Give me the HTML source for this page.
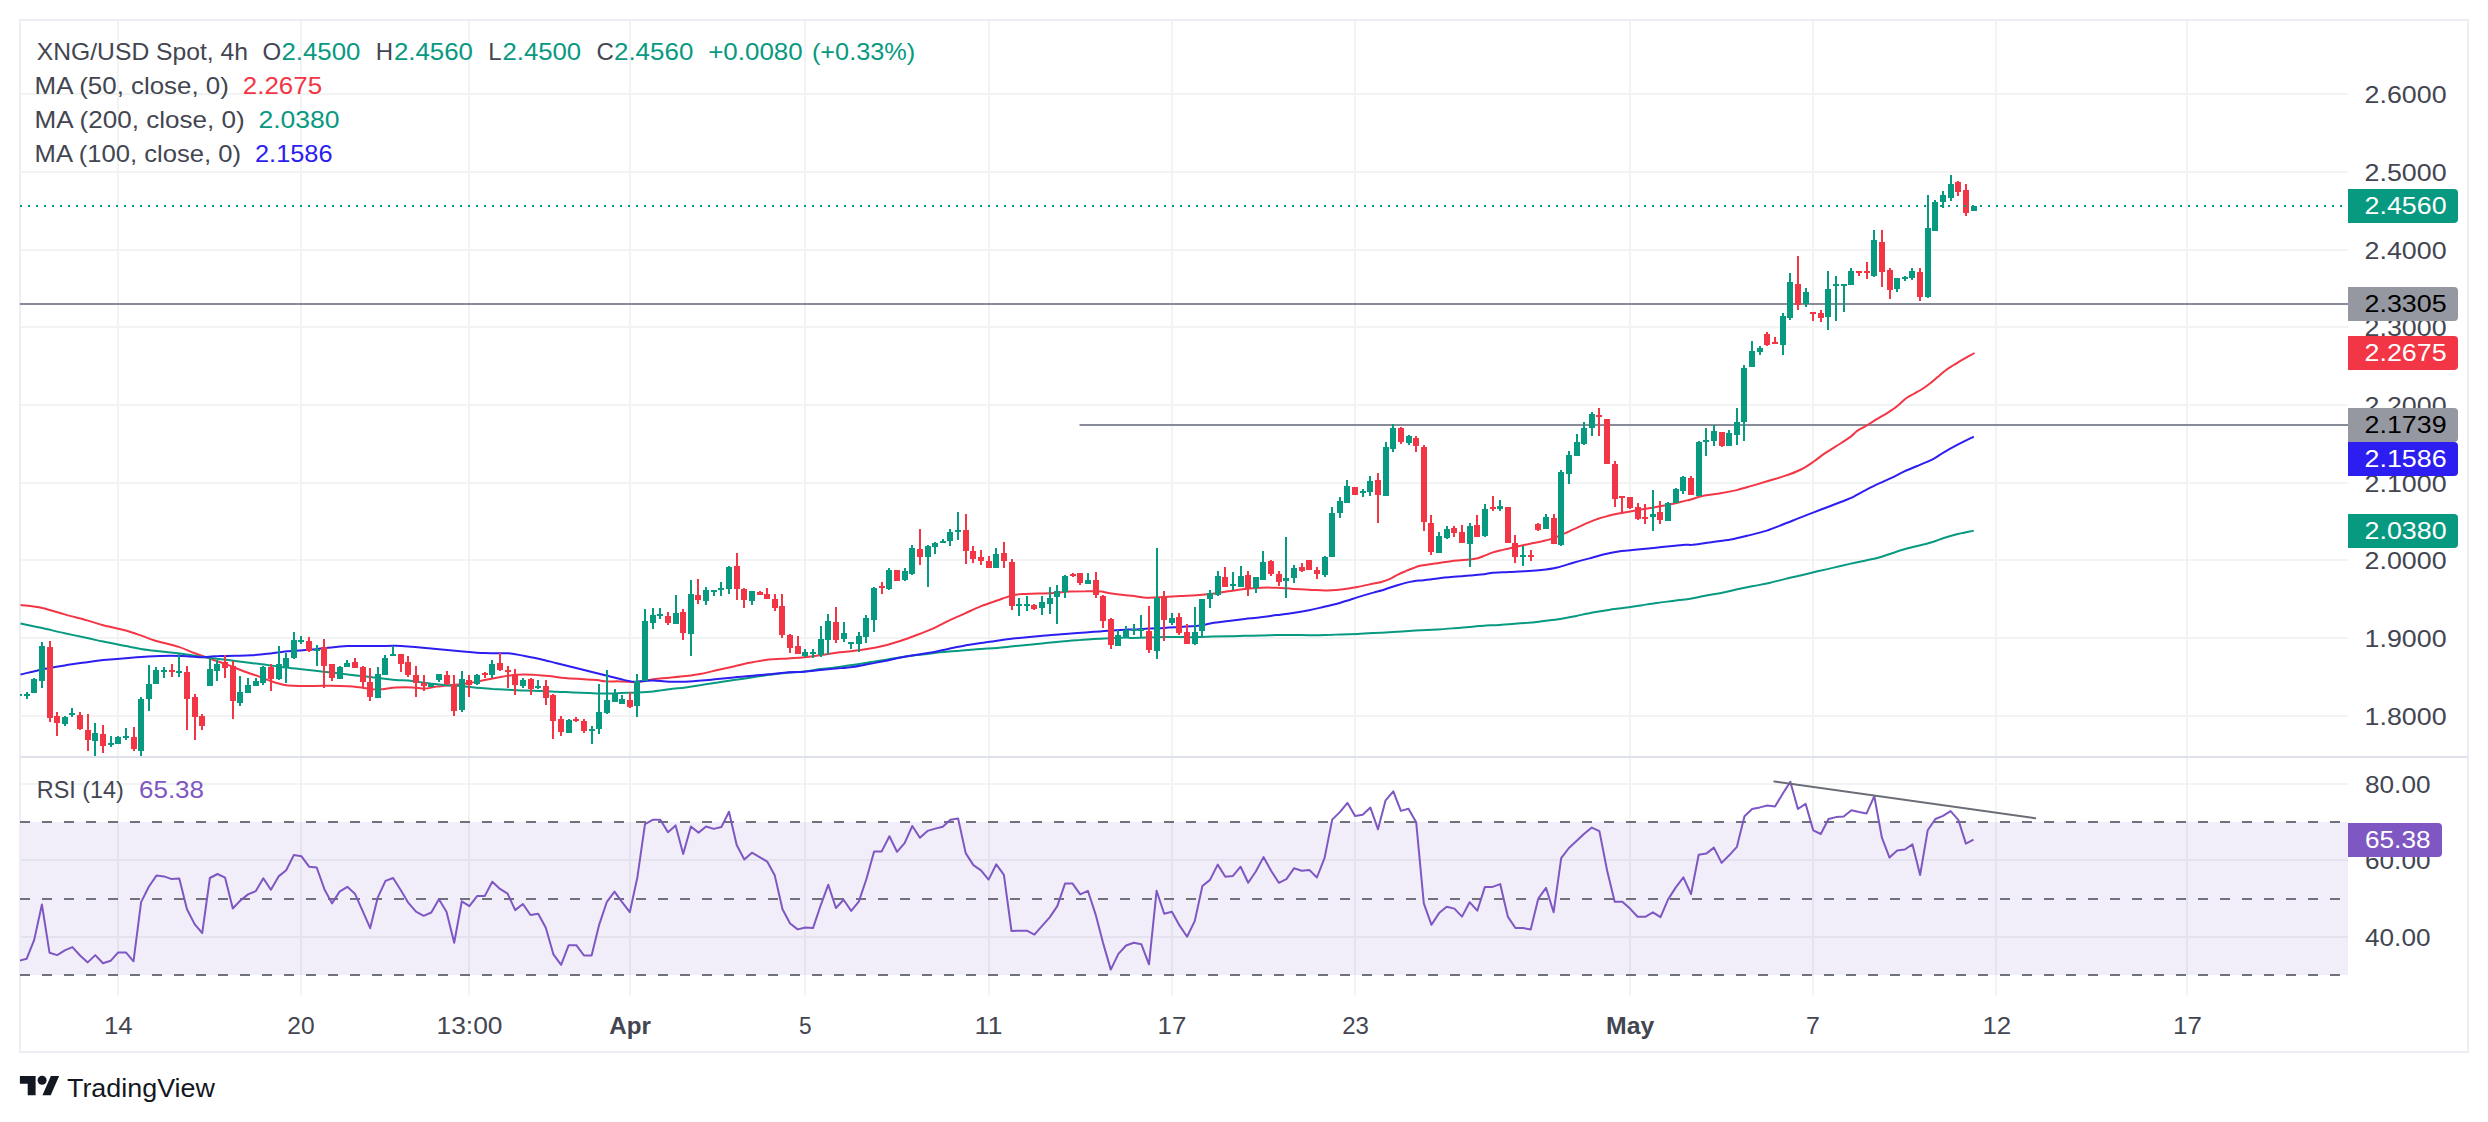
<!DOCTYPE html>
<html lang="en"><head><meta charset="utf-8"><title>XNG/USD Spot, 4h - TradingView</title>
<style>html,body{margin:0;padding:0;background:#fff}svg{display:block}</style></head>
<body>
<svg width="2488" height="1122" viewBox="0 0 2488 1122" font-family='"Liberation Sans", "DejaVu Sans", sans-serif' font-size="24">
<rect width="2488" height="1122" fill="#fff"/>
<rect x="20" y="822" width="2328" height="153" fill="#f1eef9"/>
<path d="M20 94H2348M20 172H2348M20 250H2348M20 327H2348M20 405H2348M20 483H2348M20 560H2348M20 638H2348M20 716H2348M20 784H2348M20 860H2348M20 937H2348M118 20V995.5M301 20V995.5M469 20V995.5M630 20V995.5M805 20V995.5M989 20V995.5M1172 20V995.5M1355 20V995.5M1630 20V995.5M1813 20V995.5M1996 20V995.5M2187 20V995.5" stroke="#2a2e39" stroke-opacity="0.058" stroke-width="2" fill="none"/>
<rect x="20" y="20" width="2448" height="1032" fill="none" stroke="#edeef3" stroke-width="2"/>
<path d="M20 757H2468" stroke="#dfe2ea" stroke-width="2"/>
<path d="M20 822H2348" stroke="#6f727d" stroke-width="2" stroke-dasharray="10 12"/>
<path d="M20 899H2348" stroke="#6f727d" stroke-width="2" stroke-dasharray="10 12"/>
<path d="M20 975H2348" stroke="#6f727d" stroke-width="2" stroke-dasharray="10 12"/>
<path d="M20 304H2348" stroke="#888b98" stroke-width="2"/>
<path d="M1079.5 425H2348" stroke="#888b98" stroke-width="2"/>
<clipPath id="cp"><rect x="20" y="20" width="2328" height="737"/></clipPath>
<clipPath id="cr"><rect x="20" y="757" width="2328" height="239"/></clipPath>
<g clip-path="url(#cp)">
<path d="M20.5 605.1C24.1 605.6 34.8 606.4 42.2 608.0C49.5 609.5 57.2 612.4 64.7 614.4C72.2 616.5 80.7 618.6 87.2 620.4C93.6 622.2 96.8 623.5 103.2 625.2C109.7 626.9 119.1 628.6 125.8 630.5C132.5 632.4 138.6 634.8 143.4 636.4C148.3 638.1 148.8 638.7 154.7 640.5C160.6 642.2 172.1 644.8 178.8 646.9C185.5 649.0 189.5 651.3 194.9 653.3C200.2 655.3 205.6 657.1 211.0 659.0C216.3 660.8 221.7 662.6 227.0 664.6C232.4 666.6 237.8 669.0 243.1 671.0C248.5 673.0 254.4 674.9 259.2 676.6C264.0 678.4 268.0 680.1 272.1 681.5C276.1 682.8 279.8 684.0 283.3 684.7C286.8 685.4 288.9 685.6 293.0 685.8C297.0 686.0 302.3 686.0 307.4 686.0C312.5 686.0 316.8 685.8 323.5 685.8C330.2 685.9 340.9 685.9 347.6 686.3C354.3 686.6 358.6 687.4 363.7 687.9C368.8 688.4 372.8 689.6 378.2 689.5C383.5 689.4 390.2 687.9 395.9 687.6C401.5 687.2 407.3 687.2 412.2 687.4C417.0 687.5 421.0 688.8 425.0 688.6C429.0 688.5 431.7 687.2 436.3 686.6C440.8 685.9 447.0 685.5 452.3 685.0C457.7 684.4 463.1 684.1 468.4 683.3C473.8 682.5 479.1 681.2 484.5 680.1C489.9 679.1 495.2 677.8 500.6 676.9C505.9 676.0 511.3 675.2 516.7 674.8C522.0 674.5 527.4 674.6 532.7 674.8C538.1 675.0 543.5 675.6 548.8 676.1C554.2 676.6 559.5 677.6 564.9 678.0C570.2 678.5 575.6 678.7 581.0 679.0C586.3 679.4 593.0 679.8 597.0 680.1C601.1 680.5 601.1 681.0 605.1 681.3C609.1 681.5 615.8 681.3 621.2 681.4C626.5 681.5 631.9 682.4 637.2 682.1C642.6 681.7 648.0 680.0 653.3 679.3C658.7 678.6 664.0 678.3 669.4 677.7C674.7 677.2 680.1 676.8 685.5 676.1C690.8 675.4 696.2 674.7 701.5 673.7C706.9 672.7 712.3 671.2 717.6 670.0C723.0 668.8 728.3 667.7 733.7 666.5C739.1 665.3 744.4 663.8 749.8 662.8C755.1 661.7 762.1 660.6 765.9 660.0C769.6 659.4 768.4 659.4 772.2 659.2C775.9 658.9 782.9 658.7 788.2 658.4C793.6 658.0 798.9 657.8 804.3 657.2C809.7 656.7 815.0 655.9 820.4 655.1C825.7 654.4 831.1 653.4 836.5 652.7C841.8 652.1 847.2 651.8 852.5 651.1C857.9 650.5 863.3 649.7 868.6 648.7C874.0 647.8 879.3 646.8 884.7 645.5C890.1 644.2 895.4 642.4 900.8 640.7C906.1 638.9 911.5 637.1 916.8 635.0C922.2 633.0 928.9 630.4 932.9 628.6C936.9 626.9 938.3 625.9 941.0 624.6C943.6 623.3 945.0 622.5 949.0 620.6C953.0 618.7 959.7 615.8 965.1 613.3C970.4 610.9 975.8 608.3 981.2 606.1C986.5 604.0 993.2 601.9 997.2 600.5C1001.3 599.1 1002.6 598.5 1005.3 597.6C1008.0 596.7 1010.6 595.8 1013.3 595.2C1016.0 594.6 1017.3 594.3 1021.4 594.1C1025.4 593.8 1032.1 593.8 1037.4 593.6C1042.8 593.4 1048.1 593.2 1053.5 592.9C1058.9 592.6 1064.2 591.9 1069.6 591.6C1074.9 591.3 1081.6 591.2 1085.7 591.2C1089.7 591.1 1091.0 591.1 1093.7 591.2C1096.4 591.2 1099.1 591.3 1101.7 591.6C1104.4 592.0 1105.8 592.7 1109.8 593.2C1113.8 593.8 1122.1 594.8 1125.9 595.2C1129.6 595.6 1128.4 595.4 1132.2 595.8C1135.9 596.2 1142.9 597.5 1148.2 597.7C1153.6 597.9 1158.9 597.2 1164.3 596.9C1169.7 596.6 1175.0 596.4 1180.4 596.1C1185.7 595.8 1191.1 595.7 1196.5 595.3C1201.8 594.9 1207.2 594.4 1212.5 593.7C1217.9 593.0 1223.3 592.1 1228.6 591.3C1234.0 590.5 1239.3 589.5 1244.7 588.9C1250.1 588.3 1255.4 587.9 1260.8 587.7C1266.1 587.6 1271.5 587.6 1276.8 587.7C1282.2 587.9 1287.6 588.6 1292.9 588.9C1298.3 589.2 1303.6 589.4 1309.0 589.7C1314.4 589.9 1319.7 590.5 1325.1 590.5C1330.4 590.4 1335.8 589.9 1341.2 589.4C1346.5 588.8 1351.9 587.9 1357.2 586.9C1362.6 586.0 1369.3 584.4 1373.3 583.6C1377.3 582.7 1378.7 582.7 1381.4 582.0C1384.0 581.2 1386.7 580.4 1389.4 579.2C1392.1 578.0 1394.7 576.2 1397.4 574.9C1400.1 573.5 1402.8 572.3 1405.5 571.2C1408.1 570.0 1410.8 568.9 1413.5 568.0C1416.2 567.0 1417.5 566.4 1421.5 565.6C1425.6 564.8 1432.3 564.0 1437.6 563.2C1443.0 562.3 1448.3 561.4 1453.7 560.7C1459.1 560.1 1465.8 559.9 1469.8 559.5C1473.8 559.1 1475.1 559.1 1477.8 558.3C1480.5 557.6 1483.3 556.1 1485.9 555.1C1488.4 554.1 1490.4 553.2 1492.9 552.4C1495.4 551.6 1498.3 551.0 1501.0 550.3C1503.6 549.7 1505.0 549.3 1509.0 548.4C1513.0 547.5 1519.7 545.8 1525.1 544.7C1530.4 543.5 1536.9 542.4 1541.2 541.5C1545.4 540.5 1548.1 539.9 1550.8 539.1C1553.5 538.3 1554.8 537.6 1557.2 536.7C1559.6 535.7 1562.6 534.3 1565.3 533.1C1568.0 531.9 1569.3 531.2 1573.3 529.4C1577.3 527.6 1585.4 523.9 1589.4 522.2C1593.4 520.4 1594.7 519.9 1597.4 519.0C1600.1 518.0 1602.8 517.3 1605.5 516.6C1608.1 515.8 1610.8 515.1 1613.5 514.5C1616.2 513.9 1617.5 513.7 1621.5 513.0C1625.6 512.3 1632.3 511.1 1637.6 510.1C1643.0 509.2 1648.3 508.3 1653.7 507.4C1659.1 506.5 1664.4 505.6 1669.8 504.5C1675.1 503.4 1682.5 501.4 1685.9 500.6C1689.2 499.8 1686.9 500.6 1690.0 499.7C1693.1 498.9 1699.4 496.6 1704.5 495.6C1709.6 494.5 1715.2 494.2 1720.6 493.3C1725.9 492.4 1731.3 491.4 1736.7 490.1C1742.0 488.8 1747.4 487.1 1752.7 485.6C1758.1 484.0 1763.5 482.4 1768.8 480.8C1774.2 479.2 1779.5 477.8 1784.9 475.9C1790.2 474.1 1796.1 471.9 1801.0 469.5C1805.8 467.1 1809.8 464.2 1813.8 461.5C1817.8 458.7 1820.5 456.2 1825.1 453.1C1829.6 450.0 1836.9 445.8 1841.2 443.0C1845.4 440.2 1848.1 438.6 1850.8 436.6C1853.5 434.5 1854.8 432.6 1857.2 430.9C1859.6 429.2 1862.6 428.0 1865.3 426.4C1868.0 424.8 1869.3 423.8 1873.3 421.3C1877.3 418.8 1885.4 414.2 1889.4 411.6C1893.4 409.1 1894.7 408.2 1897.4 406.0C1900.1 403.9 1902.8 400.8 1905.5 398.8C1908.1 396.8 1910.8 395.5 1913.5 394.0C1916.2 392.4 1918.9 391.1 1921.5 389.5C1924.2 387.8 1926.9 385.9 1929.6 383.8C1932.3 381.8 1934.9 379.4 1937.6 377.1C1940.3 374.8 1943.0 372.2 1945.7 370.2C1948.3 368.2 1951.0 366.7 1953.7 365.0C1956.4 363.4 1958.3 362.2 1961.7 360.2C1965.2 358.2 1972.5 354.2 1974.6 353.0" stroke="#f23645" stroke-width="2" fill="none" stroke-linejoin="round"/>
<path d="M20.5 623.6C24.1 624.3 34.8 626.5 42.2 628.1C49.5 629.7 57.2 631.6 64.7 633.2C72.2 634.9 80.7 636.7 87.2 638.1C93.6 639.4 96.8 640.3 103.2 641.6C109.7 642.9 118.3 644.7 125.8 646.1C133.3 647.5 140.8 649.0 148.3 650.1C155.8 651.2 164.3 651.8 170.8 652.5C177.2 653.2 181.5 653.7 186.8 654.5C192.2 655.2 197.6 656.1 202.9 656.9C208.3 657.6 213.6 658.3 219.0 659.0C224.4 659.6 229.7 660.2 235.1 660.9C240.4 661.6 245.8 662.3 251.2 663.0C256.5 663.6 261.9 664.2 267.2 664.9C272.6 665.6 278.0 666.6 283.3 667.3C288.7 668.0 294.0 668.4 299.4 668.9C304.7 669.5 310.1 670.1 315.5 670.7C320.8 671.3 326.2 672.0 331.5 672.6C336.9 673.3 342.3 673.9 347.6 674.5C353.0 675.2 358.3 675.7 363.7 676.3C369.1 676.9 374.4 677.7 379.8 678.2C385.1 678.8 390.5 679.4 395.9 679.9C401.2 680.3 406.8 680.4 412.2 680.9C417.6 681.5 422.9 682.7 428.2 683.3C433.6 684.0 438.9 684.5 444.3 685.0C449.7 685.4 455.0 685.6 460.4 686.1C465.7 686.6 471.1 687.4 476.5 687.8C481.8 688.3 487.2 688.6 492.5 689.0C497.9 689.3 503.3 689.5 508.6 689.8C514.0 690.0 519.3 690.4 524.7 690.6C530.1 690.8 535.4 690.9 540.8 691.1C546.1 691.2 551.5 691.5 556.8 691.7C562.2 691.9 567.6 692.3 572.9 692.5C578.3 692.7 583.6 692.8 589.0 693.0C594.4 693.2 599.7 693.5 605.1 693.5C610.4 693.5 615.8 693.2 621.2 693.0C626.5 692.8 631.9 692.8 637.2 692.5C642.6 692.2 648.0 691.9 653.3 691.4C658.7 690.8 664.0 690.0 669.4 689.3C674.7 688.6 680.1 688.1 685.5 687.4C690.8 686.6 696.2 685.8 701.5 685.0C706.9 684.1 712.3 683.3 717.6 682.5C723.0 681.7 728.3 680.9 733.7 680.1C739.1 679.3 744.4 678.5 749.8 677.7C755.1 676.9 762.1 675.9 765.9 675.3C769.6 674.8 768.4 674.8 772.2 674.4C775.9 674.0 782.9 673.3 788.2 672.8C793.6 672.3 798.9 672.2 804.3 671.5C809.7 670.9 815.0 669.9 820.4 669.1C825.7 668.4 831.1 667.9 836.5 667.2C841.8 666.5 847.2 665.9 852.5 665.1C857.9 664.3 863.3 663.2 868.6 662.4C874.0 661.5 879.3 660.8 884.7 660.0C890.1 659.1 895.4 658.0 900.8 657.2C906.1 656.4 911.5 655.8 916.8 655.1C922.2 654.5 927.6 653.8 932.9 653.2C938.3 652.6 943.6 652.1 949.0 651.6C954.4 651.1 959.7 650.8 965.1 650.3C970.4 649.9 975.8 649.4 981.2 649.0C986.5 648.6 991.9 648.4 997.2 647.9C1002.6 647.5 1008.0 646.8 1013.3 646.3C1018.7 645.8 1024.0 645.2 1029.4 644.7C1034.7 644.2 1040.1 643.6 1045.5 643.1C1050.8 642.6 1056.2 642.0 1061.5 641.5C1066.9 641.0 1072.3 640.6 1077.6 640.2C1083.0 639.8 1088.3 639.4 1093.7 639.1C1099.1 638.7 1104.4 638.5 1109.8 638.3C1115.1 638.0 1122.1 637.5 1125.9 637.5C1129.6 637.4 1128.4 637.9 1132.2 637.9C1135.9 637.9 1142.9 637.6 1148.2 637.4C1153.6 637.3 1158.9 637.2 1164.3 637.1C1169.7 637.1 1175.0 637.1 1180.4 637.1C1185.7 637.1 1191.1 637.2 1196.5 637.1C1201.8 637.0 1207.2 636.8 1212.5 636.6C1217.9 636.5 1223.3 636.4 1228.6 636.3C1234.0 636.2 1239.3 636.0 1244.7 635.8C1250.1 635.7 1255.4 635.6 1260.8 635.5C1266.1 635.4 1271.5 635.1 1276.8 635.0C1282.2 634.9 1287.6 635.0 1292.9 635.0C1298.3 635.0 1303.6 635.2 1309.0 635.2C1314.4 635.2 1319.7 635.2 1325.1 635.0C1330.4 634.9 1335.8 634.6 1341.2 634.4C1346.5 634.2 1351.9 634.1 1357.2 633.9C1362.6 633.7 1368.0 633.4 1373.3 633.1C1378.7 632.8 1384.0 632.6 1389.4 632.3C1394.7 632.0 1400.1 631.5 1405.5 631.2C1410.8 630.8 1416.2 630.5 1421.5 630.2C1426.9 629.9 1432.3 629.7 1437.6 629.4C1443.0 629.1 1448.3 628.7 1453.7 628.3C1459.1 627.9 1464.4 627.5 1469.8 627.0C1475.1 626.5 1481.5 625.7 1485.9 625.4C1490.2 625.1 1491.7 625.4 1496.1 625.2C1500.5 624.9 1506.8 624.3 1512.2 623.9C1517.5 623.5 1522.9 623.2 1528.2 622.8C1533.6 622.3 1538.9 621.6 1544.3 621.0C1549.7 620.4 1555.0 619.9 1560.4 619.1C1565.7 618.2 1571.1 616.9 1576.5 615.9C1581.8 614.8 1587.2 613.6 1592.5 612.6C1597.9 611.6 1603.3 610.7 1608.6 609.9C1614.0 609.1 1619.3 608.6 1624.7 607.8C1630.1 607.1 1635.4 606.2 1640.8 605.4C1646.1 604.6 1651.5 603.7 1656.8 603.0C1662.2 602.2 1667.6 601.6 1672.9 600.9C1678.3 600.2 1683.6 599.8 1689.0 599.0C1694.4 598.1 1699.7 596.8 1705.1 595.8C1710.4 594.7 1715.8 593.9 1721.2 592.9C1726.5 591.8 1731.9 590.5 1737.2 589.3C1742.6 588.2 1748.0 587.2 1753.3 586.1C1758.7 585.0 1764.0 584.1 1769.4 582.9C1774.7 581.7 1780.1 580.2 1785.5 578.9C1790.8 577.6 1796.2 576.4 1801.5 575.2C1806.9 573.9 1812.3 572.6 1817.6 571.3C1823.0 570.1 1828.3 568.9 1833.7 567.6C1839.1 566.4 1844.4 565.1 1849.8 563.9C1855.1 562.7 1860.8 561.5 1865.9 560.4C1870.9 559.3 1873.6 559.0 1880.0 557.2C1886.4 555.3 1896.0 551.7 1904.4 549.3C1912.7 546.9 1923.7 544.7 1930.1 542.8C1936.5 541.0 1938.7 539.7 1943.0 538.3C1947.2 536.9 1950.7 535.8 1955.8 534.5C1961.0 533.2 1970.8 531.3 1973.8 530.6" stroke="#089981" stroke-width="2" fill="none" stroke-linejoin="round"/>
<path d="M20.5 674.5C24.1 673.7 34.8 670.9 42.2 669.4C49.5 667.9 57.2 666.6 64.7 665.4C72.2 664.2 80.7 663.1 87.2 662.2C93.6 661.3 96.8 660.8 103.2 660.1C109.7 659.4 118.3 658.7 125.8 658.2C133.3 657.6 140.8 656.9 148.3 656.5C155.8 656.1 164.3 655.8 170.8 655.7C177.2 655.7 181.5 656.0 186.8 656.2C192.2 656.5 198.9 657.3 202.9 657.3C206.9 657.4 208.3 656.8 211.0 656.5C213.6 656.3 215.0 656.2 219.0 656.1C223.0 655.9 229.7 655.9 235.1 655.7C240.4 655.6 245.8 655.6 251.2 655.3C256.5 654.9 261.9 654.4 267.2 653.8C272.6 653.2 278.0 652.3 283.3 651.7C288.7 651.2 294.0 651.0 299.4 650.6C304.7 650.2 310.1 649.8 315.5 649.3C320.8 648.8 326.2 647.9 331.5 647.4C336.9 646.8 342.3 646.3 347.6 646.1C353.0 645.9 358.3 646.1 363.7 646.1C369.1 646.1 374.4 646.1 379.8 646.1C385.1 646.0 390.5 645.6 395.9 645.8C401.2 645.9 405.4 646.3 412.2 646.8C418.9 647.4 428.2 648.4 436.3 649.1C444.3 649.8 452.3 650.5 460.4 651.2C468.4 651.9 476.5 652.8 484.5 653.1C492.5 653.5 501.9 652.8 508.6 653.3C515.3 653.8 519.3 655.0 524.7 656.0C530.1 657.0 535.4 658.0 540.8 659.2C546.1 660.4 551.5 661.9 556.8 663.2C562.2 664.6 567.6 665.9 572.9 667.3C578.3 668.6 583.6 669.9 589.0 671.3C594.4 672.6 599.7 674.0 605.1 675.3C610.4 676.6 616.3 678.3 621.2 679.3C626.0 680.4 630.0 681.5 634.0 681.7C638.0 682.0 642.1 681.1 645.3 680.9C648.5 680.7 649.3 680.5 653.3 680.6C657.3 680.7 664.0 681.5 669.4 681.7C674.7 681.9 680.1 681.9 685.5 681.7C690.8 681.5 696.2 681.1 701.5 680.6C706.9 680.2 712.3 679.5 717.6 679.0C723.0 678.5 728.3 677.9 733.7 677.4C739.1 676.9 744.4 676.6 749.8 676.1C755.1 675.6 762.1 674.8 765.9 674.5C769.6 674.2 768.4 674.5 772.2 674.1C775.9 673.8 782.9 672.7 788.2 672.3C793.6 671.9 798.9 672.1 804.3 671.7C809.7 671.3 815.0 670.6 820.4 670.1C825.7 669.6 831.1 669.0 836.5 668.5C841.8 668.0 847.2 667.6 852.5 666.9C857.9 666.1 863.3 665.0 868.6 664.0C874.0 663.0 879.3 662.2 884.7 661.1C890.1 660.0 895.4 658.6 900.8 657.6C906.1 656.5 911.5 655.5 916.8 654.7C922.2 653.8 927.6 653.2 932.9 652.3C938.3 651.3 943.6 649.8 949.0 648.7C954.4 647.6 959.7 646.4 965.1 645.5C970.4 644.6 975.8 643.9 981.2 643.1C986.5 642.3 991.9 641.4 997.2 640.7C1002.6 639.9 1008.0 639.2 1013.3 638.6C1018.7 638.0 1024.0 637.5 1029.4 637.0C1034.7 636.5 1040.1 636.0 1045.5 635.5C1050.8 635.1 1056.2 634.7 1061.5 634.2C1066.9 633.8 1072.3 633.4 1077.6 633.0C1083.0 632.6 1088.3 632.2 1093.7 631.8C1099.1 631.5 1104.4 631.1 1109.8 630.7C1115.1 630.4 1122.1 629.9 1125.9 629.7C1129.6 629.5 1128.4 629.7 1132.2 629.5C1135.9 629.4 1142.9 628.9 1148.2 628.6C1153.6 628.3 1158.9 628.2 1164.3 627.9C1169.7 627.7 1175.0 627.3 1180.4 627.0C1185.7 626.6 1192.4 626.2 1196.5 625.9C1200.5 625.5 1201.8 625.2 1204.5 624.7C1207.2 624.3 1208.5 623.7 1212.5 623.1C1216.6 622.5 1223.3 621.7 1228.6 621.0C1234.0 620.3 1239.3 619.6 1244.7 618.9C1250.1 618.3 1255.4 618.0 1260.8 617.3C1266.1 616.7 1271.5 615.8 1276.8 615.1C1282.2 614.4 1287.6 613.8 1292.9 613.0C1298.3 612.2 1303.6 611.3 1309.0 610.3C1314.4 609.2 1319.7 607.8 1325.1 606.6C1330.4 605.3 1335.8 604.1 1341.2 602.5C1346.5 601.0 1351.9 599.1 1357.2 597.4C1362.6 595.7 1369.3 593.7 1373.3 592.6C1377.3 591.4 1378.7 591.3 1381.4 590.5C1384.0 589.7 1386.7 588.6 1389.4 587.7C1392.1 586.9 1394.7 586.0 1397.4 585.2C1400.1 584.4 1402.8 583.6 1405.5 582.9C1408.1 582.3 1410.8 581.7 1413.5 581.3C1416.2 580.9 1417.5 580.8 1421.5 580.4C1425.6 579.9 1432.3 579.0 1437.6 578.4C1443.0 577.8 1448.3 577.3 1453.7 576.8C1459.1 576.3 1464.4 576.0 1469.8 575.5C1475.1 575.0 1482.0 574.4 1485.9 573.9C1489.7 573.5 1489.1 573.1 1492.9 572.8C1496.8 572.5 1503.6 572.3 1509.0 572.0C1514.4 571.8 1519.7 571.5 1525.1 571.2C1530.4 570.9 1535.8 570.7 1541.2 570.1C1546.5 569.5 1551.9 568.8 1557.2 567.5C1562.6 566.3 1568.0 564.2 1573.3 562.7C1578.7 561.2 1584.0 559.8 1589.4 558.4C1594.7 556.9 1600.1 555.2 1605.5 554.0C1610.8 552.8 1616.2 551.9 1621.5 551.1C1626.9 550.4 1632.3 550.1 1637.6 549.5C1643.0 549.0 1648.3 548.4 1653.7 547.9C1659.1 547.4 1664.4 546.8 1669.8 546.3C1675.1 545.8 1682.1 545.0 1685.9 544.7C1689.6 544.4 1687.9 545.2 1692.2 544.8C1696.4 544.3 1705.0 543.0 1711.4 542.2C1717.9 541.3 1724.3 540.8 1730.7 539.6C1737.2 538.4 1744.0 536.6 1750.0 535.1C1756.0 533.6 1761.4 532.3 1766.8 530.6C1772.1 528.9 1776.4 527.1 1782.2 524.8C1788.0 522.6 1796.3 519.1 1801.5 517.1C1806.6 515.1 1808.8 514.3 1813.1 512.6C1817.3 511.0 1822.7 508.9 1827.2 507.2C1831.7 505.5 1836.2 503.8 1840.1 502.3C1843.9 500.8 1846.1 500.2 1850.4 498.2C1854.6 496.2 1861.1 492.5 1865.8 490.1C1870.5 487.7 1874.4 485.7 1878.6 483.7C1882.9 481.6 1887.2 479.9 1891.5 477.9C1895.8 475.8 1900.1 473.4 1904.4 471.4C1908.7 469.5 1912.3 468.2 1917.2 466.0C1922.2 463.9 1929.7 460.8 1934.0 458.6C1938.2 456.4 1939.3 454.9 1943.0 452.8C1946.6 450.7 1950.7 448.4 1955.8 445.7C1961.0 443.0 1970.8 438.2 1973.8 436.7" stroke="#2c1ef0" stroke-width="2" fill="none" stroke-linejoin="round"/>
<path d="M18 694h2V696h-2zM26 692h2V699h-2zM33 678h2V693h-2zM41 642h2V688h-2zM64 716h2V726h-2zM71 708h2V717h-2zM94 723h2V756h-2zM110 736h2V747h-2zM117 736h2V744h-2zM125 728h2V740h-2zM140 697h2V756h-2zM148 665h2V711h-2zM155 667h2V684h-2zM163 667h2V678h-2zM178 654h2V677h-2zM209 658h2V686h-2zM216 660h2V681h-2zM239 676h2V706h-2zM247 678h2V693h-2zM255 678h2V686h-2zM262 666h2V685h-2zM278 646h2V680h-2zM285 653h2V683h-2zM293 632h2V659h-2zM300 636h2V644h-2zM316 645h2V666h-2zM339 666h2V679h-2zM346 660h2V667h-2zM377 667h2V698h-2zM384 655h2V675h-2zM392 646h2V656h-2zM430 683h2V687h-2zM438 674h2V682h-2zM461 671h2V712h-2zM476 674h2V685h-2zM491 660h2V678h-2zM522 678h2V688h-2zM537 680h2V689h-2zM568 719h2V733h-2zM591 726h2V744h-2zM598 684h2V734h-2zM606 670h2V714h-2zM614 689h2V702h-2zM621 695h2V704h-2zM636 674h2V717h-2zM644 609h2V681h-2zM652 608h2V629h-2zM659 608h2V619h-2zM675 595h2V624h-2zM690 580h2V656h-2zM705 587h2V605h-2zM713 590h2V596h-2zM720 582h2V596h-2zM728 566h2V594h-2zM751 591h2V605h-2zM804 649h2V657h-2zM812 649h2V658h-2zM820 626h2V657h-2zM827 614h2V655h-2zM843 622h2V642h-2zM850 642h2V649h-2zM858 632h2V652h-2zM865 615h2V643h-2zM873 587h2V632h-2zM888 568h2V590h-2zM904 568h2V581h-2zM911 545h2V575h-2zM927 545h2V587h-2zM934 542h2V554h-2zM942 539h2V543h-2zM949 529h2V546h-2zM957 512h2V540h-2zM995 548h2V568h-2zM1018 598h2V616h-2zM1026 596h2V611h-2zM1041 596h2V615h-2zM1049 587h2V614h-2zM1056 585h2V624h-2zM1064 575h2V598h-2zM1087 573h2V584h-2zM1117 630h2V646h-2zM1125 626h2V638h-2zM1133 624h2V635h-2zM1140 615h2V637h-2zM1156 548h2V659h-2zM1171 613h2V625h-2zM1194 607h2V645h-2zM1201 599h2V636h-2zM1209 590h2V608h-2zM1217 571h2V596h-2zM1232 572h2V590h-2zM1240 566h2V587h-2zM1255 577h2V593h-2zM1262 551h2V580h-2zM1285 537h2V598h-2zM1293 565h2V583h-2zM1324 556h2V577h-2zM1331 507h2V557h-2zM1339 497h2V518h-2zM1346 480h2V503h-2zM1362 489h2V497h-2zM1369 476h2V496h-2zM1385 442h2V496h-2zM1392 424h2V452h-2zM1408 435h2V445h-2zM1438 532h2V553h-2zM1446 526h2V539h-2zM1469 523h2V567h-2zM1484 504h2V537h-2zM1499 500h2V511h-2zM1522 546h2V566h-2zM1545 514h2V529h-2zM1560 470h2V546h-2zM1568 451h2V484h-2zM1576 434h2V456h-2zM1583 422h2V445h-2zM1591 412h2V436h-2zM1652 490h2V531h-2zM1667 502h2V521h-2zM1675 488h2V503h-2zM1682 476h2V494h-2zM1698 441h2V496h-2zM1705 428h2V456h-2zM1713 425h2V446h-2zM1728 430h2V446h-2zM1736 408h2V445h-2zM1743 365h2V441h-2zM1751 341h2V367h-2zM1759 346h2V355h-2zM1782 313h2V355h-2zM1789 273h2V320h-2zM1805 288h2V307h-2zM1827 271h2V330h-2zM1835 276h2V321h-2zM1843 284h2V312h-2zM1850 268h2V285h-2zM1873 230h2V277h-2zM1896 278h2V292h-2zM1904 276h2V281h-2zM1911 268h2V280h-2zM1927 195h2V298h-2zM1934 200h2V231h-2zM1942 191h2V208h-2zM1950 175h2V201h-2zM1973 206h2V211h-2zM16 694h6V696h-6zM24 694h6V696h-6zM31 679h6V693h-6zM39 646h6V681h-6zM62 717h6V724h-6zM69 713h6V715h-6zM92 733h6V741h-6zM108 743h6V745h-6zM115 737h6V744h-6zM123 736h6V738h-6zM138 699h6V751h-6zM146 684h6V699h-6zM153 670h6V684h-6zM161 670h6V672h-6zM176 671h6V673h-6zM207 669h6V686h-6zM214 664h6V671h-6zM237 692h6V703h-6zM245 685h6V693h-6zM253 681h6V686h-6zM260 667h6V683h-6zM276 664h6V679h-6zM283 658h6V668h-6zM291 640h6V658h-6zM298 640h6V642h-6zM314 649h6V651h-6zM337 667h6V679h-6zM344 663h6V667h-6zM375 674h6V698h-6zM382 658h6V675h-6zM390 654h6V656h-6zM428 683h6V687h-6zM436 674h6V680h-6zM459 679h6V710h-6zM474 675h6V684h-6zM489 664h6V675h-6zM520 680h6V686h-6zM535 686h6V688h-6zM566 720h6V733h-6zM589 729h6V731h-6zM596 712h6V729h-6zM604 700h6V713h-6zM612 693h6V702h-6zM619 699h6V704h-6zM634 681h6V706h-6zM642 621h6V681h-6zM650 615h6V623h-6zM657 614h6V616h-6zM673 613h6V624h-6zM688 594h6V634h-6zM703 590h6V601h-6zM711 590h6V592h-6zM718 588h6V590h-6zM726 567h6V589h-6zM749 591h6V601h-6zM802 652h6V656h-6zM810 652h6V654h-6zM818 639h6V655h-6zM825 621h6V640h-6zM841 633h6V639h-6zM848 642h6V644h-6zM856 636h6V644h-6zM863 618h6V637h-6zM871 588h6V620h-6zM886 570h6V589h-6zM902 571h6V580h-6zM909 548h6V574h-6zM925 546h6V557h-6zM932 543h6V547h-6zM940 541h6V543h-6zM947 532h6V541h-6zM955 530h6V532h-6zM993 554h6V568h-6zM1016 604h6V606h-6zM1024 604h6V606h-6zM1039 602h6V608h-6zM1047 598h6V604h-6zM1054 591h6V597h-6zM1062 576h6V592h-6zM1085 580h6V584h-6zM1115 635h6V646h-6zM1123 630h6V638h-6zM1131 629h6V631h-6zM1138 629h6V631h-6zM1154 598h6V651h-6zM1169 618h6V623h-6zM1192 632h6V644h-6zM1199 599h6V631h-6zM1207 593h6V599h-6zM1215 576h6V595h-6zM1230 584h6V586h-6zM1238 576h6V587h-6zM1253 577h6V588h-6zM1260 562h6V580h-6zM1283 578h6V581h-6zM1291 568h6V578h-6zM1322 557h6V575h-6zM1329 513h6V557h-6zM1337 501h6V513h-6zM1344 486h6V503h-6zM1360 491h6V493h-6zM1367 481h6V492h-6zM1383 447h6V496h-6zM1390 428h6V449h-6zM1406 436h6V443h-6zM1436 536h6V553h-6zM1444 529h6V538h-6zM1467 526h6V544h-6zM1482 509h6V536h-6zM1497 506h6V509h-6zM1520 555h6V557h-6zM1543 517h6V529h-6zM1558 472h6V545h-6zM1566 455h6V474h-6zM1574 442h6V456h-6zM1581 428h6V444h-6zM1589 414h6V428h-6zM1650 514h6V517h-6zM1665 503h6V521h-6zM1673 489h6V503h-6zM1680 477h6V491h-6zM1696 442h6V496h-6zM1703 440h6V442h-6zM1711 431h6V441h-6zM1726 433h6V446h-6zM1734 422h6V435h-6zM1741 368h6V422h-6zM1749 351h6V367h-6zM1757 348h6V352h-6zM1780 316h6V345h-6zM1787 282h6V318h-6zM1803 292h6V304h-6zM1825 289h6V317h-6zM1833 284h6V286h-6zM1841 284h6V286h-6zM1848 271h6V285h-6zM1871 240h6V276h-6zM1894 278h6V289h-6zM1902 277h6V279h-6zM1909 271h6V278h-6zM1925 228h6V297h-6zM1932 202h6V231h-6zM1940 195h6V202h-6zM1948 184h6V198h-6zM1971 206h6V211h-6z" fill="#089981"/>
<path d="M49 641h2V722h-2zM56 712h2V736h-2zM79 712h2V730h-2zM87 714h2V751h-2zM102 725h2V753h-2zM133 727h2V751h-2zM171 664h2V677h-2zM186 666h2V730h-2zM194 694h2V740h-2zM201 714h2V730h-2zM224 655h2V678h-2zM232 661h2V719h-2zM270 664h2V691h-2zM308 637h2V652h-2zM323 639h2V688h-2zM331 664h2V681h-2zM354 658h2V668h-2zM362 666h2V688h-2zM369 668h2V701h-2zM400 654h2V672h-2zM407 656h2V677h-2zM415 666h2V697h-2zM423 675h2V691h-2zM446 671h2V685h-2zM453 675h2V716h-2zM468 675h2V697h-2zM484 672h2V678h-2zM499 653h2V671h-2zM507 666h2V688h-2zM514 669h2V695h-2zM530 678h2V695h-2zM545 680h2V705h-2zM552 694h2V739h-2zM560 716h2V736h-2zM575 717h2V722h-2zM583 719h2V733h-2zM629 692h2V708h-2zM667 612h2V625h-2zM682 609h2V640h-2zM697 579h2V604h-2zM736 553h2V600h-2zM743 588h2V608h-2zM759 591h2V595h-2zM766 588h2V599h-2zM774 594h2V611h-2zM781 594h2V638h-2zM789 634h2V653h-2zM797 636h2V654h-2zM835 607h2V643h-2zM881 582h2V594h-2zM896 570h2V581h-2zM919 529h2V565h-2zM965 514h2V564h-2zM972 546h2V563h-2zM980 550h2V565h-2zM988 556h2V568h-2zM1003 542h2V568h-2zM1011 559h2V610h-2zM1033 604h2V610h-2zM1072 573h2V577h-2zM1079 573h2V585h-2zM1095 572h2V598h-2zM1102 595h2V628h-2zM1110 618h2V649h-2zM1148 606h2V653h-2zM1163 591h2V641h-2zM1178 613h2V635h-2zM1186 624h2V644h-2zM1224 567h2V587h-2zM1247 571h2V596h-2zM1270 560h2V576h-2zM1278 571h2V586h-2zM1301 563h2V572h-2zM1308 560h2V570h-2zM1316 567h2V579h-2zM1354 487h2V495h-2zM1377 473h2V523h-2zM1400 427h2V444h-2zM1415 436h2V452h-2zM1423 445h2V531h-2zM1430 515h2V555h-2zM1453 526h2V537h-2zM1461 525h2V543h-2zM1476 515h2V537h-2zM1492 496h2V511h-2zM1507 507h2V543h-2zM1514 535h2V563h-2zM1530 550h2V561h-2zM1537 523h2V531h-2zM1553 514h2V544h-2zM1598 408h2V436h-2zM1606 419h2V464h-2zM1614 461h2V507h-2zM1621 496h2V512h-2zM1629 497h2V509h-2zM1637 503h2V520h-2zM1644 504h2V524h-2zM1659 501h2V524h-2zM1690 476h2V495h-2zM1721 432h2V447h-2zM1766 332h2V346h-2zM1774 337h2V344h-2zM1797 256h2V310h-2zM1812 312h2V321h-2zM1820 310h2V322h-2zM1858 271h2V276h-2zM1866 262h2V279h-2zM1881 230h2V287h-2zM1889 268h2V299h-2zM1919 268h2V301h-2zM1957 181h2V196h-2zM1965 184h2V216h-2zM47 647h6V718h-6zM54 716h6V723h-6zM77 715h6V729h-6zM85 730h6V740h-6zM100 734h6V746h-6zM131 737h6V749h-6zM169 670h6V672h-6zM184 672h6V699h-6zM192 697h6V717h-6zM199 716h6V726h-6zM222 662h6V668h-6zM230 666h6V701h-6zM268 667h6V679h-6zM306 641h6V651h-6zM321 647h6V666h-6zM329 664h6V678h-6zM352 662h6V668h-6zM360 667h6V682h-6zM367 682h6V697h-6zM398 654h6V664h-6zM405 662h6V675h-6zM413 675h6V683h-6zM421 683h6V686h-6zM444 675h6V684h-6zM451 684h6V711h-6zM466 680h6V685h-6zM482 673h6V675h-6zM497 663h6V670h-6zM505 670h6V672h-6zM512 674h6V685h-6zM528 679h6V689h-6zM543 686h6V698h-6zM550 695h6V721h-6zM558 719h6V732h-6zM573 719h6V721h-6zM581 721h6V731h-6zM627 700h6V707h-6zM665 616h6V623h-6zM680 612h6V633h-6zM695 595h6V600h-6zM734 566h6V589h-6zM741 589h6V600h-6zM757 592h6V595h-6zM764 594h6V599h-6zM772 599h6V608h-6zM779 606h6V635h-6zM787 635h6V648h-6zM795 646h6V654h-6zM833 622h6V640h-6zM879 586h6V588h-6zM894 570h6V581h-6zM917 549h6V557h-6zM963 530h6V551h-6zM970 551h6V559h-6zM978 557h6V561h-6zM986 561h6V568h-6zM1001 553h6V561h-6zM1009 562h6V606h-6zM1031 605h6V609h-6zM1070 574h6V576h-6zM1077 573h6V583h-6zM1093 580h6V595h-6zM1100 596h6V621h-6zM1108 619h6V645h-6zM1146 631h6V650h-6zM1161 596h6V620h-6zM1176 617h6V633h-6zM1184 632h6V644h-6zM1222 577h6V587h-6zM1245 575h6V588h-6zM1268 561h6V574h-6zM1276 574h6V582h-6zM1299 567h6V571h-6zM1306 560h6V570h-6zM1314 570h6V574h-6zM1352 487h6V495h-6zM1375 480h6V495h-6zM1398 428h6V442h-6zM1413 438h6V446h-6zM1421 447h6V522h-6zM1428 523h6V552h-6zM1451 528h6V533h-6zM1459 532h6V543h-6zM1474 525h6V537h-6zM1490 507h6V509h-6zM1505 507h6V543h-6zM1512 543h6V557h-6zM1528 555h6V557h-6zM1535 524h6V530h-6zM1551 518h6V544h-6zM1596 415h6V417h-6zM1604 419h6V464h-6zM1612 464h6V499h-6zM1619 496h6V498h-6zM1627 497h6V508h-6zM1635 507h6V519h-6zM1642 517h6V519h-6zM1657 512h6V520h-6zM1688 478h6V495h-6zM1719 432h6V446h-6zM1764 334h6V345h-6zM1772 342h6V344h-6zM1795 284h6V305h-6zM1810 312h6V314h-6zM1818 313h6V318h-6zM1856 271h6V273h-6zM1864 271h6V273h-6zM1879 242h6V272h-6zM1887 270h6V290h-6zM1917 272h6V297h-6zM1955 182h6V192h-6zM1963 190h6V213h-6z" fill="#f23645"/>
</g>
<path d="M20 206H2348" stroke="#089981" stroke-width="2" stroke-dasharray="2 6"/>
<g clip-path="url(#cr)">
<path d="M19.0 960.8L26.6 958.8L34.2 939.9L41.9 904.5L49.5 952.7L57.2 955.1L64.8 950.3L72.4 947.1L80.1 955.5L87.7 962.4L95.3 955.1L103.0 963.2L110.6 960.8L118.2 952.4L125.9 952.4L133.5 961.3L141.1 902.1L148.8 886.8L156.4 875.6L164.0 876.4L171.7 879.1L179.3 878.5L186.9 909.0L194.6 924.1L202.2 933.1L209.9 878.0L217.5 874.0L225.1 877.7L232.8 908.5L240.4 900.5L248.0 894.4L255.7 891.2L263.3 878.3L270.9 889.7L278.6 876.4L286.2 870.3L293.8 855.1L301.5 856.3L309.1 866.7L316.7 867.5L324.4 889.2L332.0 903.4L339.6 891.6L347.3 886.8L354.9 893.7L362.6 910.9L370.2 928.1L377.8 897.3L385.5 880.9L393.1 878.0L400.7 890.0L408.4 902.9L416.0 911.7L423.6 915.8L431.3 912.5L438.9 899.2L446.5 911.7L454.2 942.8L461.8 901.3L469.4 906.1L477.1 896.1L484.7 896.1L492.3 881.7L500.0 888.9L507.6 893.7L515.2 910.1L522.9 904.0L530.5 915.0L538.2 913.8L545.8 927.8L553.4 954.3L561.1 964.8L568.7 945.2L576.3 945.2L584.0 955.5L591.6 955.5L599.2 924.6L606.9 901.8L614.5 891.6L622.1 902.1L629.8 912.2L637.4 877.2L645.0 824.1L652.7 819.8L660.3 819.8L668.0 832.2L675.6 825.4L683.2 853.9L690.9 826.5L698.5 832.6L706.1 826.5L713.8 828.9L721.4 827.0L729.0 811.7L736.7 845.0L744.3 859.5L751.9 852.7L759.6 857.1L767.2 861.6L774.8 875.6L782.5 909.3L790.1 923.5L797.7 929.4L805.4 927.5L813.0 928.1L820.7 905.3L828.3 884.7L835.9 908.0L843.6 899.7L851.2 910.9L858.8 901.6L866.5 878.8L874.1 851.4L881.7 851.4L889.4 836.2L897.0 851.8L904.6 843.1L912.3 826.0L919.9 837.8L927.5 830.9L935.2 828.6L942.8 826.8L950.4 819.8L958.1 818.5L965.7 853.1L973.4 865.1L981.0 870.3L988.6 879.6L996.3 864.3L1003.9 874.8L1011.5 931.0L1019.2 930.7L1026.8 930.7L1034.4 934.6L1042.1 925.9L1049.7 917.4L1057.3 906.1L1065.0 883.6L1072.6 883.6L1080.2 894.4L1087.9 890.8L1095.5 914.1L1103.1 943.1L1110.8 969.6L1118.4 953.9L1126.1 945.5L1133.7 942.8L1141.3 944.2L1149.0 964.3L1156.6 890.8L1164.2 913.8L1171.9 911.7L1179.5 925.4L1187.1 936.7L1194.8 920.9L1202.4 886.0L1210.0 879.9L1217.7 864.6L1225.3 876.8L1232.9 875.9L1240.6 866.7L1248.2 882.8L1255.8 871.5L1263.5 857.1L1271.1 870.7L1278.8 882.8L1286.4 879.1L1294.0 868.3L1301.7 870.7L1309.3 869.9L1316.9 877.5L1324.6 857.9L1332.2 819.6L1339.8 812.1L1347.5 802.9L1355.1 816.1L1362.7 814.8L1370.4 807.6L1378.0 829.3L1385.6 800.3L1393.3 791.3L1400.9 810.9L1408.5 808.8L1416.2 822.3L1423.8 903.4L1431.5 924.8L1439.1 913.1L1446.7 906.7L1454.4 908.6L1462.0 916.6L1469.6 902.2L1477.3 910.7L1484.9 886.9L1492.5 886.9L1500.2 884.1L1507.8 916.6L1515.4 928.0L1523.1 928.0L1530.7 929.5L1538.3 898.6L1546.0 887.8L1553.6 912.3L1561.2 858.1L1568.9 848.0L1576.5 841.1L1584.2 833.8L1591.8 827.6L1599.4 831.1L1607.1 870.5L1614.7 901.8L1622.3 901.8L1630.0 908.6L1637.6 916.8L1645.2 916.8L1652.9 912.3L1660.5 917.1L1668.1 899.4L1675.8 887.4L1683.4 877.4L1691.0 894.1L1698.7 854.7L1706.3 853.6L1713.9 847.6L1721.6 862.9L1729.2 855.3L1736.9 846.8L1744.5 816.3L1752.1 809.0L1759.8 807.4L1767.4 805.5L1775.0 806.6L1782.7 793.8L1790.3 781.7L1797.9 809.0L1805.6 803.9L1813.2 830.3L1820.8 834.0L1828.5 819.0L1836.1 817.1L1843.7 816.6L1851.4 810.2L1859.0 811.9L1866.6 813.4L1874.3 796.2L1881.9 837.7L1889.5 857.6L1897.2 850.4L1904.8 849.5L1912.5 844.4L1920.1 875.0L1927.7 830.3L1935.4 819.0L1943.0 815.9L1950.6 811.1L1958.3 819.8L1965.9 843.6L1973.5 839.6" stroke="#7e57c2" stroke-width="2" fill="none" stroke-linejoin="round"/>
<path d="M1774.3 781.4L2035.2 818.2" stroke="#6a6d78" stroke-width="2" stroke-linecap="round"/>
</g>
<text x="2364.6" y="103" fill="#434651" textLength="82" lengthAdjust="spacingAndGlyphs">2.6000</text>
<text x="2364.6" y="181" fill="#434651" textLength="82" lengthAdjust="spacingAndGlyphs">2.5000</text>
<text x="2364.6" y="259" fill="#434651" textLength="82" lengthAdjust="spacingAndGlyphs">2.4000</text>
<text x="2364.6" y="336" fill="#434651" textLength="82" lengthAdjust="spacingAndGlyphs">2.3000</text>
<text x="2364.6" y="414" fill="#434651" textLength="82" lengthAdjust="spacingAndGlyphs">2.2000</text>
<text x="2364.6" y="492" fill="#434651" textLength="82" lengthAdjust="spacingAndGlyphs">2.1000</text>
<text x="2364.6" y="569" fill="#434651" textLength="82" lengthAdjust="spacingAndGlyphs">2.0000</text>
<text x="2364.6" y="647" fill="#434651" textLength="82" lengthAdjust="spacingAndGlyphs">1.9000</text>
<text x="2364.6" y="725" fill="#434651" textLength="82" lengthAdjust="spacingAndGlyphs">1.8000</text>
<text x="2365" y="793" fill="#434651" textLength="65.5" lengthAdjust="spacingAndGlyphs">80.00</text>
<text x="2365" y="869" fill="#434651" textLength="65.5" lengthAdjust="spacingAndGlyphs">60.00</text>
<text x="2365" y="946" fill="#434651" textLength="65.5" lengthAdjust="spacingAndGlyphs">40.00</text>
<path d="M2348 189h106a4 4 0 0 1 4 4v26a4 4 0 0 1 -4 4h-106z" fill="#089981"/>
<text x="2364.6" y="214" fill="#fff" textLength="82" lengthAdjust="spacingAndGlyphs">2.4560</text>
<path d="M2348 287h106a4 4 0 0 1 4 4v26a4 4 0 0 1 -4 4h-106z" fill="#9598a1"/>
<text x="2364.6" y="312" fill="#000" textLength="82" lengthAdjust="spacingAndGlyphs">2.3305</text>
<path d="M2348 336h106a4 4 0 0 1 4 4v26a4 4 0 0 1 -4 4h-106z" fill="#f23645"/>
<text x="2364.6" y="361" fill="#fff" textLength="82" lengthAdjust="spacingAndGlyphs">2.2675</text>
<path d="M2348 408h106a4 4 0 0 1 4 4v26a4 4 0 0 1 -4 4h-106z" fill="#9598a1"/>
<text x="2364.6" y="433" fill="#000" textLength="82" lengthAdjust="spacingAndGlyphs">2.1739</text>
<path d="M2348 442h106a4 4 0 0 1 4 4v26a4 4 0 0 1 -4 4h-106z" fill="#2c1ef0"/>
<text x="2364.6" y="467" fill="#fff" textLength="82" lengthAdjust="spacingAndGlyphs">2.1586</text>
<path d="M2348 514h106a4 4 0 0 1 4 4v26a4 4 0 0 1 -4 4h-106z" fill="#089981"/>
<text x="2364.6" y="539" fill="#fff" textLength="82" lengthAdjust="spacingAndGlyphs">2.0380</text>
<path d="M2348 823h90a4 4 0 0 1 4 4v26a4 4 0 0 1 -4 4h-90z" fill="#7e57c2"/>
<text x="2365" y="848" fill="#fff" textLength="65.5" lengthAdjust="spacingAndGlyphs">65.38</text>
<text x="118.3" y="1034" fill="#434651" textLength="28.6" lengthAdjust="spacingAndGlyphs" text-anchor="middle">14</text>
<text x="301" y="1034" fill="#434651" textLength="27.3" lengthAdjust="spacingAndGlyphs" text-anchor="middle">20</text>
<text x="469.5" y="1034" fill="#434651" textLength="66" lengthAdjust="spacingAndGlyphs" text-anchor="middle">13:00</text>
<text x="630" y="1034" fill="#434651" textLength="41.6" lengthAdjust="spacingAndGlyphs" text-anchor="middle" font-weight="bold">Apr</text>
<text x="805.3" y="1034" fill="#434651" textLength="12.6" lengthAdjust="spacingAndGlyphs" text-anchor="middle">5</text>
<text x="988.5" y="1034" fill="#434651" textLength="28" lengthAdjust="spacingAndGlyphs" text-anchor="middle">11</text>
<text x="1172" y="1034" fill="#434651" textLength="28.8" lengthAdjust="spacingAndGlyphs" text-anchor="middle">17</text>
<text x="1355.5" y="1034" fill="#434651" textLength="26.7" lengthAdjust="spacingAndGlyphs" text-anchor="middle">23</text>
<text x="1630.2" y="1034" fill="#434651" textLength="48.2" lengthAdjust="spacingAndGlyphs" text-anchor="middle" font-weight="bold">May</text>
<text x="1813" y="1034" fill="#434651" textLength="13.8" lengthAdjust="spacingAndGlyphs" text-anchor="middle">7</text>
<text x="1996.8" y="1034" fill="#434651" textLength="28.8" lengthAdjust="spacingAndGlyphs" text-anchor="middle">12</text>
<text x="2187.5" y="1034" fill="#434651" textLength="28.8" lengthAdjust="spacingAndGlyphs" text-anchor="middle">17</text>
<text x="36.8" y="60" fill="#434651" textLength="211.2" lengthAdjust="spacingAndGlyphs">XNG/USD Spot, 4h</text>
<text x="262.5" y="60" fill="#434651">O</text>
<text x="281.4" y="60" fill="#089981" textLength="79.1" lengthAdjust="spacingAndGlyphs">2.4500</text>
<text x="375.8" y="60" fill="#434651">H</text>
<text x="393.9" y="60" fill="#089981" textLength="79.1" lengthAdjust="spacingAndGlyphs">2.4560</text>
<text x="488.3" y="60" fill="#434651">L</text>
<text x="502.4" y="60" fill="#089981" textLength="78.8" lengthAdjust="spacingAndGlyphs">2.4500</text>
<text x="596.5" y="60" fill="#434651">C</text>
<text x="614" y="60" fill="#089981" textLength="79.3" lengthAdjust="spacingAndGlyphs">2.4560</text>
<text x="708.2" y="60" fill="#089981" textLength="94.5" lengthAdjust="spacingAndGlyphs">+0.0080</text>
<text x="811.9" y="60" fill="#089981" textLength="103.3" lengthAdjust="spacingAndGlyphs">(+0.33%)</text>
<text x="34.6" y="93.5" fill="#434651" textLength="194.3" lengthAdjust="spacingAndGlyphs">MA (50, close, 0)</text>
<text x="242.8" y="93.5" fill="#f23645" textLength="79.3" lengthAdjust="spacingAndGlyphs">2.2675</text>
<text x="34.6" y="127.5" fill="#434651" textLength="210.1" lengthAdjust="spacingAndGlyphs">MA (200, close, 0)</text>
<text x="258.4" y="127.5" fill="#089981" textLength="81.2" lengthAdjust="spacingAndGlyphs">2.0380</text>
<text x="34.6" y="161.7" fill="#434651" textLength="206.5" lengthAdjust="spacingAndGlyphs">MA (100, close, 0)</text>
<text x="255" y="161.7" fill="#2c1ef0" textLength="77.5" lengthAdjust="spacingAndGlyphs">2.1586</text>
<text x="36.8" y="798" fill="#434651" textLength="87" lengthAdjust="spacingAndGlyphs">RSI (14)</text>
<text x="139" y="798" fill="#7e57c2" textLength="65" lengthAdjust="spacingAndGlyphs">65.38</text>
<g fill="#131722"><path d="M19.9 1076H35.6V1095.3H27.7V1083.8H19.9z"/><circle cx="42.1" cy="1080.3" r="4.5"/><path d="M50.85 1076H59.1L50.7 1095.3H42.45z"/></g>
<text x="67" y="1096.6" fill="#131722" textLength="147.9" lengthAdjust="spacingAndGlyphs" font-size="25.2">TradingView</text>
</svg>
</body></html>
